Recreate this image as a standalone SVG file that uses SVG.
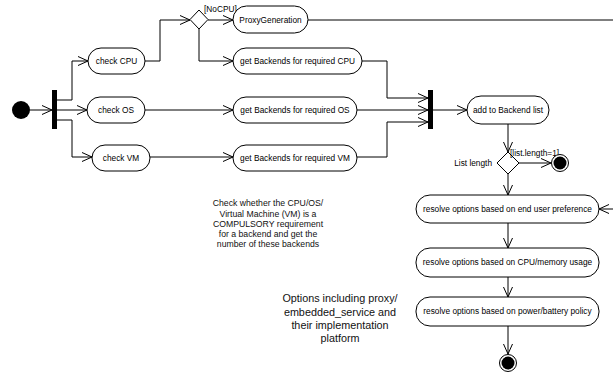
<svg xmlns="http://www.w3.org/2000/svg" width="613" height="375" viewBox="0 0 613 375">
  <style>
    .act { fill: #fff; stroke: #000; stroke-width: 1; }
    .lbl { font-family: "Liberation Sans", Arial, sans-serif; font-size: 8.3px; fill: #000; text-anchor: middle; }
    .guard { font-family: "Liberation Sans", Arial, sans-serif; font-size: 8.3px; fill: #000; }
    .note { font-family: "Liberation Sans", Arial, sans-serif; font-size: 8.7px; fill: #111; text-anchor: middle; }
    .note2 { font-family: "Liberation Sans", Arial, sans-serif; font-size: 10.8px; fill: #111; text-anchor: middle; }
    .flow { fill: none; stroke: #000; stroke-width: 1; marker-end: url(#open); }
    .bar { fill: #000; }
    .dec { fill: #fff; stroke: #000; stroke-width: 1; }
  </style>
  <defs>
    <marker id="open" viewBox="0 0 10 10" refX="10" refY="5" markerWidth="10" markerHeight="10" markerUnits="userSpaceOnUse" orient="auto">
      <path d="M0,0.5 L10,5 L0,9.5" fill="none" stroke="#000" stroke-width="1"/>
    </marker>
  </defs>
  <rect width="613" height="375" fill="#fff"/>

  <!-- control flows -->
  <g id="connectors">
    <path class="flow" d="M30,110 H52"/>
    <path class="flow" d="M57,100 H72 V61 H88"/>
    <path class="flow" d="M57,110 H87"/>
    <path class="flow" d="M57,120 H72 V157 H92"/>
    <path class="flow" d="M145,61 H160 V20 H190"/>
    <path class="flow" d="M208,20 H233"/>
    <path class="flow" d="M199,29 V61 H233"/>
    <path class="flow" d="M145,110 H233"/>
    <path class="flow" d="M150,157 H233"/>
    <path class="flow" d="M308,20 H630 V209 H599"/>
    <path class="flow" d="M362,61 H387 V98 H428"/>
    <path class="flow" d="M357,110 H428"/>
    <path class="flow" d="M357,157 H387 V122 H428"/>
    <path class="flow" d="M433,110 H467"/>
    <path class="flow" d="M508,124 V152"/>
    <path class="flow" d="M519,163 H551"/>
    <path class="flow" d="M508,174 V195"/>
    <path class="flow" d="M508,223 V248"/>
    <path class="flow" d="M508,277 V297"/>
    <path class="flow" d="M508,326 V354"/>
  </g>

  <g id="start"><circle cx="21" cy="110" r="9" fill="#000"/></g>
  <g id="fork"><rect class="bar" x="52" y="90" width="5" height="39"/></g>

  <g id="checkCPU">
    <rect class="act" x="88" y="48" width="57" height="26" rx="13"/>
    <text class="lbl" x="116.5" y="64">check CPU</text>
  </g>
  <g id="checkOS">
    <rect class="act" x="87" y="97" width="58" height="26" rx="13"/>
    <text class="lbl" x="116" y="113">check OS</text>
  </g>
  <g id="checkVM">
    <rect class="act" x="92" y="145" width="58" height="26" rx="13"/>
    <text class="lbl" x="121" y="161">check VM</text>
  </g>

  <g id="cpuDecision">
    <polygon class="dec" points="199,10 208,19.5 199,29 190,19.5"/>
    <text class="guard" x="204" y="12">[NoCPU]</text>
  </g>

  <g id="proxyGeneration">
    <rect class="act" x="233" y="6" width="75" height="27" rx="13.5"/>
    <text class="lbl" x="270.5" y="23">ProxyGeneration</text>
  </g>

  <g id="backendsCPU">
    <rect class="act" x="233" y="48" width="129" height="26" rx="13"/>
    <text class="lbl" x="297.5" y="64">get Backends for required CPU</text>
  </g>
  <g id="backendsOS">
    <rect class="act" x="233" y="97" width="124" height="26" rx="13"/>
    <text class="lbl" x="295" y="113">get Backends for required OS</text>
  </g>
  <g id="backendsVM">
    <rect class="act" x="233" y="145" width="124" height="26" rx="13"/>
    <text class="lbl" x="295" y="161">get Backends for required VM</text>
  </g>

  <g id="join"><rect class="bar" x="428" y="90" width="5" height="39"/></g>

  <g id="addBackend">
    <rect class="act" x="467" y="96" width="82" height="28" rx="14"/>
    <text class="lbl" x="508" y="113">add to Backend list</text>
  </g>

  <g id="lengthDecision">
    <polygon class="dec" points="508,152 519,163 508,174 497,163"/>
    <text class="guard" x="492" y="166" text-anchor="end">List length</text>
    <text class="guard" x="510" y="156">[list.length=1]</text>
  </g>

  <g id="endSingle">
    <circle cx="560" cy="163" r="8.5" fill="#fff" stroke="#000" stroke-width="1"/>
    <circle cx="560" cy="163" r="6.5" fill="#000"/>
  </g>

  <g id="resolveUser">
    <rect class="act" x="416" y="195" width="183" height="28" rx="14"/>
    <text class="lbl" x="507.5" y="212">resolve options based on end user preference</text>
  </g>
  <g id="resolveCPU">
    <rect class="act" x="416" y="248" width="183" height="29" rx="14"/>
    <text class="lbl" x="507.5" y="265">resolve options based on CPU/memory usage</text>
  </g>
  <g id="resolvePower">
    <rect class="act" x="416" y="297" width="183" height="29" rx="14"/>
    <text class="lbl" x="507.5" y="314">resolve options based on power/battery policy</text>
  </g>

  <g id="end">
    <circle cx="508" cy="363" r="8.5" fill="#fff" stroke="#000" stroke-width="1"/>
    <circle cx="508" cy="363" r="6.5" fill="#000"/>
  </g>

  <g id="noteCheck">
    <text class="note" x="268" y="206">Check whether the CPU/OS/</text>
    <text class="note" x="268" y="216.5">Virtual Machine (VM) is a</text>
    <text class="note" x="268" y="227">COMPULSORY requirement</text>
    <text class="note" x="268" y="237">for a backend and get the</text>
    <text class="note" x="268" y="247">number of these backends</text>
  </g>
  <g id="noteOptions">
    <text class="note2" x="340" y="302">Options including proxy/</text>
    <text class="note2" x="340" y="315.5">embedded_service and</text>
    <text class="note2" x="340" y="329">their implementation</text>
    <text class="note2" x="340" y="342">platform</text>
  </g>
</svg>
